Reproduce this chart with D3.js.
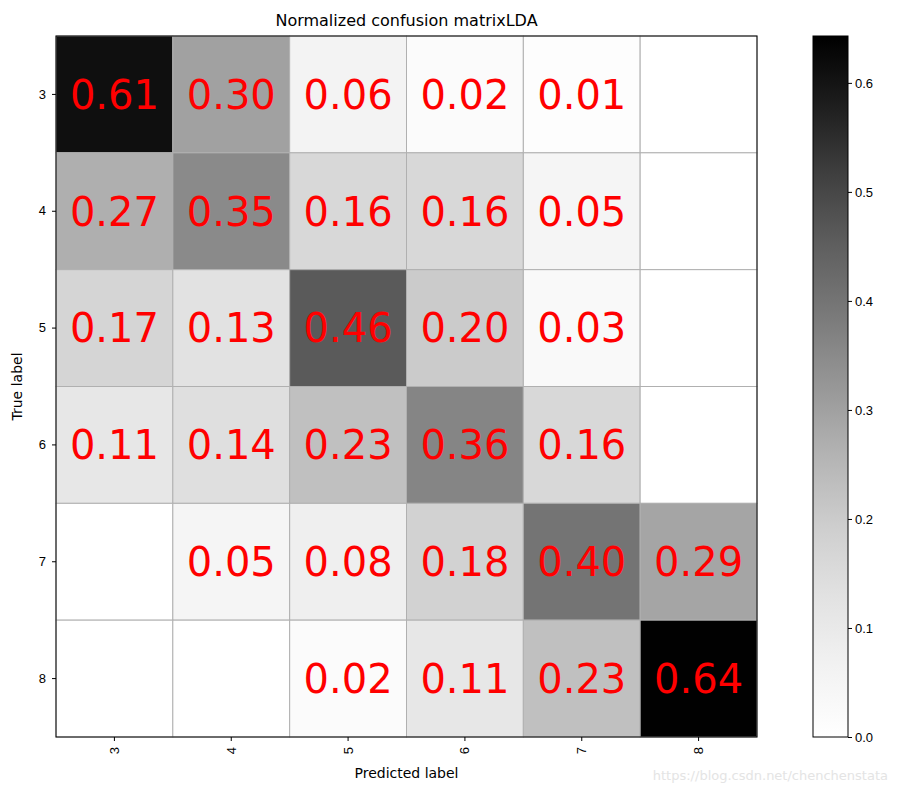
<!DOCTYPE html>
<html><head><meta charset="utf-8">
<script src="https://cdn.jsdelivr.net/npm/d3@7"></script>
<style>body{margin:0;background:#fff;font-family:"DejaVu Sans",sans-serif}</style>
</head><body><svg id="c" width="897" height="793"></svg>
<script>
const labels = ['3', '4', '5', '6', '7', '8'];
const matrix = [
  [0.61, 0.30, 0.06, 0.02, 0.01, 0],
  [0.27, 0.35, 0.16, 0.16, 0.05, 0],
  [0.17, 0.13, 0.46, 0.20, 0.03, 0],
  [0.11, 0.14, 0.23, 0.36, 0.16, 0],
  [0, 0.05, 0.08, 0.18, 0.40, 0.29],
  [0, 0, 0.02, 0.11, 0.23, 0.64]
];
const cbTicks = [0, 0.1, 0.2, 0.3, 0.4, 0.5, 0.6];
const vmax = 0.643;

const svg = d3.select('#c');
const m = {left: 56, top: 36, size: 701};
const x = d3.scaleBand().domain(labels).range([m.left, m.left + m.size]);
const y = d3.scaleBand().domain(labels).range([m.top, m.top + m.size]);
const color = v => d3.interpolateGreys(v / vmax);

const cells = [];
matrix.forEach((row, i) => row.forEach((v, j) => cells.push({r: labels[i], c: labels[j], v})));

svg.selectAll('rect.cell').data(cells).join('rect')
  .attr('x', d => x(d.c)).attr('y', d => y(d.r))
  .attr('width', x.bandwidth()).attr('height', y.bandwidth())
  .attr('fill', d => color(d.v)).attr('stroke', '#b0b0b0').attr('stroke-width', 1);

svg.selectAll('text.val').data(cells.filter(d => d.v > 0)).join('text')
  .attr('x', d => x(d.c) + x.bandwidth() / 2).attr('y', d => y(d.r) + y.bandwidth() / 2)
  .attr('text-anchor', 'middle').attr('dy', '0.36em')
  .attr('fill', 'red').attr('font-size', '40px').text(d => d.v.toFixed(2));

svg.append('rect').attr('x', m.left).attr('y', m.top).attr('width', m.size).attr('height', m.size)
  .attr('fill', 'none').attr('stroke', '#000');

const xAxis = svg.append('g').attr('transform', `translate(0,${m.top + m.size})`)
  .call(d3.axisBottom(x).tickSize(4));
xAxis.selectAll('text').attr('transform', 'rotate(-90)').attr('x', -10).attr('y', 0)
  .attr('dy', '0.35em').attr('text-anchor', 'end').attr('font-size', '13px').attr('fill', '#000');
const yAxis = svg.append('g').attr('transform', `translate(${m.left},0)`)
  .call(d3.axisLeft(y).tickSize(4));
yAxis.selectAll('text').attr('font-size', '13px').attr('fill', '#000').attr('x', -10);
svg.selectAll('.domain').remove();

svg.append('text').attr('x', m.left + m.size / 2).attr('y', 26).attr('text-anchor', 'middle')
  .attr('font-size', '16px').text('Normalized confusion matrixLDA');
svg.append('text').attr('x', m.left + m.size / 2).attr('y', 778).attr('text-anchor', 'middle')
  .attr('font-size', '14px').text('Predicted label');
svg.append('text').attr('transform', `translate(22,${m.top + m.size / 2}) rotate(-90)`)
  .attr('text-anchor', 'middle').attr('font-size', '14px').text('True label');

// colorbar
const cb = {x: 813, w: 35};
const cy = d3.scaleLinear().domain([0, vmax]).range([m.top + m.size, m.top]);
const defs = svg.append('defs');
const grad = defs.append('linearGradient').attr('id', 'g').attr('x1', 0).attr('y1', 1).attr('x2', 0).attr('y2', 0);
d3.range(0, 1.01, 0.1).forEach(t => grad.append('stop').attr('offset', t).attr('stop-color', d3.interpolateGreys(t)));
svg.append('rect').attr('x', cb.x).attr('y', m.top).attr('width', cb.w).attr('height', m.size)
  .attr('fill', 'url(#g)').attr('stroke', '#000');
const cAxis = svg.append('g').attr('transform', `translate(${cb.x + cb.w},0)`)
  .call(d3.axisRight(cy).tickValues(cbTicks).tickFormat(d3.format('.1f')).tickSize(4));
cAxis.select('.domain').remove();
cAxis.selectAll('text').attr('font-size', '13px').attr('fill', '#000');

svg.append('text').attr('x', 888).attr('y', 780).attr('text-anchor', 'end')
  .attr('font-size', '13px').attr('fill', '#e4e4e4').text('https://blog.csdn.net/chenchenstata');
</script></body></html>
